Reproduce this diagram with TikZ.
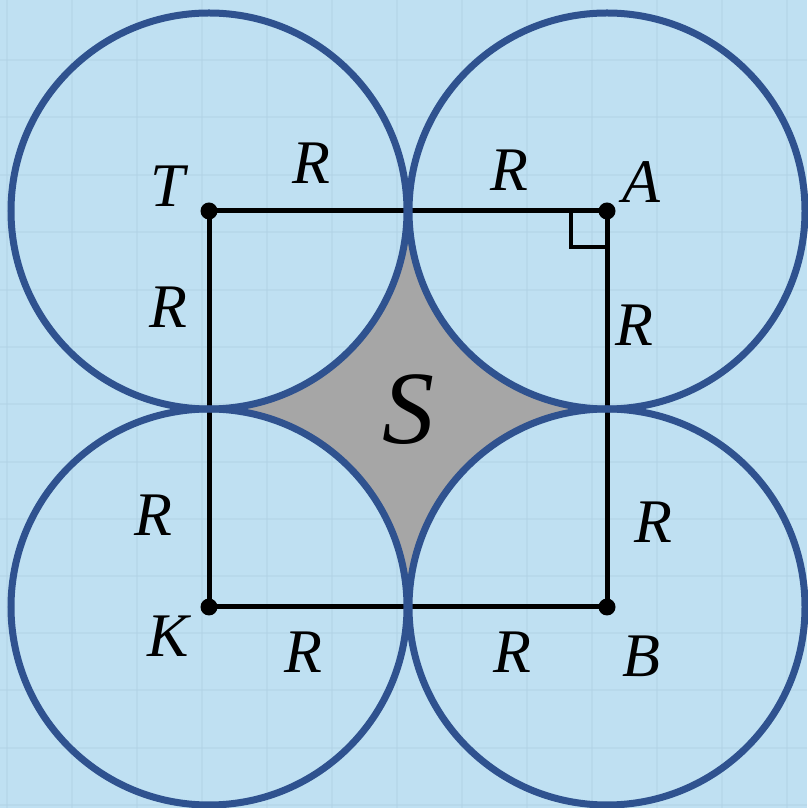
\documentclass[tikz,border=0pt]{standalone}
\usepackage{fontspec}
\setmainfont{Liberation Serif}
\usetikzlibrary{calc}
\definecolor{bg}{RGB}{191,224,242}
\definecolor{gridc}{RGB}{178,211,230}
\definecolor{circ}{RGB}{47,82,143}
\definecolor{greyfill}{RGB}{166,166,166}
\tikzset{
  ring/.style={draw=circ,line width=7pt},
  side/.style={draw=black,line width=5pt},
  pt/.style={circle,fill=black,inner sep=0pt,minimum size=17pt},
  lab/.style={font=\fontsize{62}{62}\selectfont\itshape,inner sep=0pt},
  big/.style={font=\fontsize{104}{104}\selectfont\itshape,inner sep=0pt}
}
\begin{document}
\begin{tikzpicture}[x=1pt,y=1pt]
\useasboundingbox (0,0) rectangle (807,808);
\fill[bg] (0,0) rectangle (807,808);
% faint grid
\foreach \gx in {7,72,137,202,267,332,397,462,527,592,657,722,787}
  \draw[gridc,line width=2.5pt,opacity=0.5] (\gx,0) -- (\gx,808);
\foreach \gy in {60,117,175,232,290,347,404,462,519,576,633,690,748,805}
  \draw[gridc,line width=2.5pt,opacity=0.5] (0,808-\gy) -- (807,808-\gy);
% centers
\coordinate (Tc) at (209,597);
\coordinate (Ac) at (607,597);
\coordinate (Kc) at (209,201);
\coordinate (Bc) at (607,201);
% shaded region
\fill[greyfill] (406,597) arc[start angle=180,end angle=270,radius=198]
  arc[start angle=90,end angle=180,radius=198]
  arc[start angle=0,end angle=90,radius=198]
  arc[start angle=270,end angle=360,radius=198] -- cycle;
% square
\draw[side,line join=miter] (Tc) -- (Ac) -- (Bc) -- (Kc) -- cycle;
% right angle mark
\draw[black,line width=4pt] ($(Ac)+(-36,0)$) |- ($(Ac)+(0,-36)$);
% circles
\foreach \c in {Tc,Ac,Kc,Bc}
  \draw[ring] (\c) circle[radius=198];
% points
\node[pt] (T) at (Tc) {};
\node[pt] (A) at (Ac) {};
\node[pt] (K) at (Kc) {};
\node[pt] (B) at (Bc) {};
% labels
\node[lab] (lT) at (168,622) {T};
\node[lab] (lA) at (641,626) {A};
\node[lab] (lK) at (168,172) {K};
\node[lab] (lB) at (641,152) {B};
\node[lab] (r1) at (311,645) {R};
\node[lab] (r2) at (509,638) {R};
\node[lab] (r3) at (168,501) {R};
\node[lab] (r4) at (634,483) {R};
\node[lab] (r5) at (153,293) {R};
\node[lab] (r6) at (653,286) {R};
\node[lab] (r7) at (303,156) {R};
\node[lab] (r8) at (512,156) {R};
\node[big] (S) at (408,398) {S};
\end{tikzpicture}
\end{document}
